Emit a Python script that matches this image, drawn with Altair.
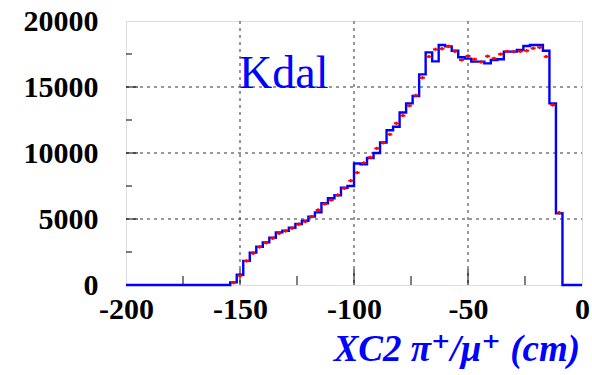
import altair as alt
import pandas as pd

# ---- data ----
x_min, x_max, n_bins = -200.0, 0.0, 70
hist_counts = [0]*16 + [
    200, 780, 1830, 2450, 2900, 3230, 3580, 3990, 4110, 4340,
    4620, 4870, 5180, 5500, 6190, 6570, 6800, 7370, 7500, 9200,
    9150, 9620, 10000, 10800, 11720, 11990, 13070, 13760, 14320, 15960,
    17620, 16940, 18180, 18080, 17750, 17250, 17150, 16920, 16920, 16790,
    17050, 17100, 17680, 17680, 17800, 18110, 18180, 18180, 17750, 13760,
    5430] + [0]*3
data_first_bin = 16
data_counts = [
    180, 700, 1820, 2400, 2880, 3200, 3540, 3920, 4090, 4300,
    4600, 4800, 5180, 5680, 6140, 6440, 6820, 7320, 7900, 8510,
    9250, 9670, 10350, 10780, 11410, 12250, 12830, 13580, 14360, 15700,
    17300, 17850, 17900, 18080, 17700, 17050, 17350, 17100, 16900, 17330,
    17170, 17490, 17700, 17680, 17700, 17750, 17930, 18000, 17300, 13640,
    5480]
x_major = [-150, -100, -50]
x_minor = [-175, -125, -75, -25]
y_major = [5000, 10000, 15000]
y_minor = [2500, 7500, 12500, 17500]
x_labels = [-200, -150, -100, -50, 0]
y_labels = [0, 5000, 10000, 15000, 20000]

W, H = 456, 264
bw = (x_max - x_min) / n_bins
BLUE = "#0000ff"
RED = "#ff0000"
FONT = "'Liberation Serif', 'Times New Roman', Times, 'DejaVu Serif', serif"

edges = [x_min + i * bw for i in range(n_bins + 1)]
hist_df = pd.DataFrame({"x": edges, "y": hist_counts + [0]})

centers = [x_min + (data_first_bin + i + 0.5) * bw for i in range(len(data_counts))]
pts = pd.DataFrame({"x": centers, "y": data_counts})
pts["xl"] = pts["x"] - 1.1
pts["xr"] = pts["x"] + 1.1
pts["yl"] = pts["y"] - 130
pts["yh"] = pts["y"] + 130

xs = alt.Scale(domain=[x_min, x_max], nice=False, zero=False)
ys = alt.Scale(domain=[0, 20000], nice=False)

xaxis = alt.Axis(values=x_labels, labelExpr="'' + datum.value", ticks=False, domain=False,
                 grid=False, labelFont=FONT, labelFontWeight="bold", labelFontSize=30,
                 labelColor="black", labelPadding=9, title=None, labelFlush=False)
yaxis = alt.Axis(values=y_labels, labelExpr="'' + datum.value", ticks=False, domain=False,
                 grid=False, labelFont=FONT, labelFontWeight="bold", labelFontSize=30,
                 labelColor="black", labelPadding=28, title=None, labelFlush=False)

gx = alt.Chart(pd.DataFrame({"v": x_major})).mark_rule(
    color="#333333", strokeDash=[3, 4], strokeWidth=1).encode(
    x=alt.X("v:Q", scale=xs, axis=xaxis), y=alt.value(0), y2=alt.value(H))
gy = alt.Chart(pd.DataFrame({"v": y_major})).mark_rule(
    color="#333333", strokeDash=[3, 4], strokeWidth=1).encode(
    y=alt.Y("v:Q", scale=ys, axis=yaxis), x=alt.value(0), x2=alt.value(W))

txm = alt.Chart(pd.DataFrame({"v": x_major})).mark_rule(color="black", strokeWidth=1).encode(
    x=alt.X("v:Q", scale=xs), y=alt.value(H), y2=alt.value(H - 16))
txn = alt.Chart(pd.DataFrame({"v": x_minor})).mark_rule(color="black", strokeWidth=1).encode(
    x=alt.X("v:Q", scale=xs), y=alt.value(H), y2=alt.value(H - 9))
tym = alt.Chart(pd.DataFrame({"v": y_major})).mark_rule(color="black", strokeWidth=1).encode(
    y=alt.Y("v:Q", scale=ys), x=alt.value(0), x2=alt.value(12))
tyn = alt.Chart(pd.DataFrame({"v": y_minor})).mark_rule(color="black", strokeWidth=1).encode(
    y=alt.Y("v:Q", scale=ys), x=alt.value(0), x2=alt.value(6))

hist = alt.Chart(hist_df).mark_line(interpolate="step-after", color=BLUE, strokeWidth=2.4).encode(
    x=alt.X("x:Q", scale=xs), y=alt.Y("y:Q", scale=ys))

hbar = alt.Chart(pts).mark_rule(color=RED, strokeWidth=2).encode(
    x=alt.X("xl:Q", scale=xs), x2="xr:Q", y=alt.Y("y:Q", scale=ys))
vbar = alt.Chart(pts).mark_rule(color=RED, strokeWidth=1.5).encode(
    x=alt.X("x:Q", scale=xs), y=alt.Y("yl:Q", scale=ys), y2="yh:Q")

one = pd.DataFrame({"a": [0]})
kdal = alt.Chart(one).mark_text(text="Kdal", font=FONT, fontSize=46, color=BLUE,
                                align="left", baseline="alphabetic").encode(
    x=alt.value(113), y=alt.value(67))
title = alt.Chart(one).mark_text(text="XC2 π⁺/μ⁺ (cm)", font=FONT, fontSize=37,
                                 fontWeight="bold", fontStyle="italic", color=BLUE,
                                 align="right", baseline="alphabetic").encode(
    x=alt.value(454), y=alt.value(340))

chart = alt.layer(gx, gy, txm, txn, tym, tyn, hist, hbar, vbar, kdal, title).properties(
    width=W, height=H,
    autosize=alt.AutoSizeParams(type="none"),
    padding={"left": 126, "top": 21, "right": 10, "bottom": 90},
).configure_view(stroke="black", strokeWidth=1.2).configure(background="white")

chart.save("out.html", embed_options={"renderer": "svg", "actions": False})
